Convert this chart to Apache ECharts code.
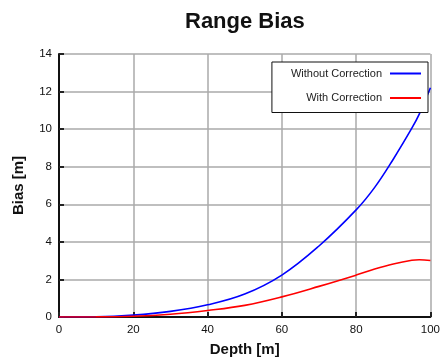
<!DOCTYPE html>
<html>
<head>
<meta charset="utf-8">
<script src="https://cdn.jsdelivr.net/npm/echarts@6/dist/echarts.min.js"></script>
<style>
  html, body { margin: 0; padding: 0; background: #fff; }
  #chart { width: 443px; height: 362px; }
</style>
</head>
<body>
<div id="chart"></div>
<script>
// Depth samples (m) and range bias (m) for each processing variant
const depth = [0, 10, 20, 30, 40, 50, 60, 70, 80, 85, 90, 95, 97, 100];
const biasWithout = [0, 0.01, 0.1, 0.3, 0.65, 1.22, 2.23, 3.78, 5.7, 6.9, 8.4, 10.05, 10.8, 12.2];
const biasWith = [0, 0.005, 0.04, 0.15, 0.35, 0.62, 1.07, 1.63, 2.23, 2.55, 2.82, 3.02, 3.05, 3.01];
const seriesNames = ['Without Correction', 'With Correction'];
const depthTicks = [0, 20, 40, 60, 80, 100];
const biasTicks = [0, 2, 4, 6, 8, 10, 12, 14];

const FONT = 'Liberation Sans, Arial, sans-serif';
const pairs = (ys) => depth.map((d, i) => [d, ys[i]]);

const chart = echarts.init(document.getElementById('chart'), null, { renderer: 'canvas' });

const axisCommon = {
  axisLine: { show: true, onZero: false, lineStyle: { color: '#111', width: 2 } },
  axisTick: { show: true, inside: true, length: 5, lineStyle: { color: '#222', width: 2 } },
  splitLine: { show: true, lineStyle: { color: '#aaaaaa', width: 1.5 } },
  axisLabel: { color: '#111', fontFamily: FONT, fontSize: 11.5 },
  nameTextStyle: { color: '#111', fontFamily: FONT, fontSize: 15, fontWeight: 'bold' }
};

chart.setOption({
  animation: false,
  backgroundColor: '#fff',
  title: {
    text: 'Range Bias',
    left: 180,
    top: 6,
    textStyle: { fontFamily: FONT, fontSize: 22, fontWeight: 'bold', color: '#111' }
  },
  grid: { left: 59, right: 10, top: 54, bottom: 43, containLabel: false },
  legend: {
    data: seriesNames,
    orient: 'vertical',
    align: 'right',
    right: 15,
    top: 62,
    padding: [6, 7, 9, 19],
    itemGap: 13.5,
    itemWidth: 31,
    itemHeight: 2,
    icon: 'rect',
    backgroundColor: '#fff',
    borderColor: '#111',
    borderWidth: 1,
    textStyle: { fontFamily: FONT, fontSize: 11, color: '#222', padding: [0, 3, 0, 0] }
  },
  xAxis: Object.assign({}, axisCommon, {
    type: 'value',
    min: depthTicks[0],
    max: depthTicks[depthTicks.length - 1],
    interval: depthTicks[1] - depthTicks[0],
    name: 'Depth [m]',
    nameLocation: 'middle',
    nameGap: 25,
    axisLabel: Object.assign({}, axisCommon.axisLabel, { margin: 7 })
  }),
  yAxis: Object.assign({}, axisCommon, {
    type: 'value',
    min: biasTicks[0],
    max: biasTicks[biasTicks.length - 1],
    interval: biasTicks[1] - biasTicks[0],
    name: 'Bias [m]',
    nameLocation: 'middle',
    nameGap: 33,
    axisLabel: Object.assign({}, axisCommon.axisLabel, { margin: 7 })
  }),
  series: [
    {
      name: seriesNames[0],
      type: 'line',
      data: pairs(biasWithout),
      smooth: 0.4,
      showSymbol: false,
      symbol: 'none',
      itemStyle: { color: '#0000ff' },
      lineStyle: { color: '#0000ff', width: 1.6 }
    },
    {
      name: seriesNames[1],
      type: 'line',
      data: pairs(biasWith),
      smooth: 0.4,
      showSymbol: false,
      symbol: 'none',
      itemStyle: { color: '#ff0000' },
      lineStyle: { color: '#ff0000', width: 1.6 }
    }
  ]
});
</script>
</body>
</html>
